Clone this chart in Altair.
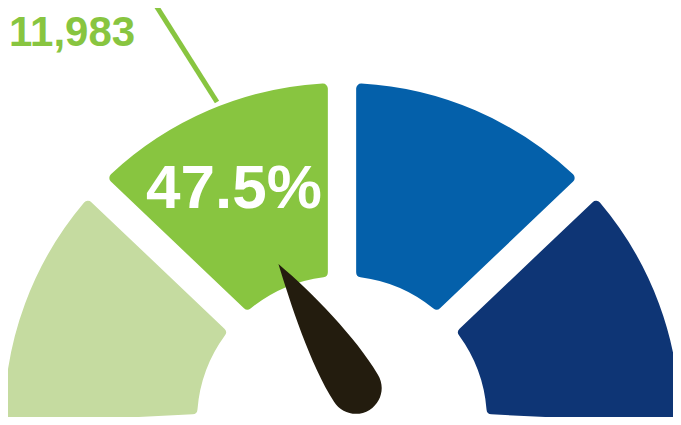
import math
import altair as alt
import pandas as pd

# ---- data ----
SEGMENTS = ["Q1", "Q2", "Q3", "Q4"]
SEG_START = [0, 25, 50, 75]
SEG_END = [25, 50, 75, 100]
SEG_COLORS = ["#C5DBA0", "#88C540", "#0460AA", "#0E3575"]
PCT_LABEL = ["47.5%"]
COUNT_LABEL = ["11,983"]

# ---- layout / style constants ----
W, H = 665, 409
CX, CY = 334, 413
R_OUT, R_IN = 338, 145
DELTA = 0.05
NEEDLE_PATH = ("M0,-1 C0.16,-0.5 0.31,0.2 0.3,0.7 "
               "A0.3,0.3 0 0 1 -0.3,0.7 C-0.31,0.2 -0.12,-0.55 0,-1 Z")

seg_df = pd.DataFrame({"seg": SEGMENTS, "start": SEG_START, "end": SEG_END})

arcs = alt.Chart(seg_df).mark_arc(
    innerRadius=R_IN, outerRadius=R_OUT, padAngle=0.077, cornerRadius=5
).encode(
    theta=alt.Theta("start:Q", scale=alt.Scale(domain=[0, 100],
                    range=[-math.pi / 2 - DELTA, math.pi / 2 + DELTA])),
    theta2="end:Q",
    color=alt.Color("seg:N", scale=alt.Scale(domain=SEGMENTS, range=SEG_COLORS), legend=None),
    x=alt.value(CX),
    y=alt.value(CY),
)

needle = alt.Chart(pd.DataFrame({"v": PCT_LABEL})).mark_point(
    shape=NEEDLE_PATH, filled=True, size=172 * 172, color="#231C0E",
    opacity=1, angle=328, strokeWidth=0
).encode(x=alt.value(316), y=alt.value(329))

pct = alt.Chart(pd.DataFrame({"t": PCT_LABEL})).mark_text(
    font="Liberation Sans", fontWeight="bold", fontSize=62, color="white",
    align="center", baseline="alphabetic"
).encode(text="t:N", x=alt.value(226), y=alt.value(200))

count = alt.Chart(pd.DataFrame({"t": COUNT_LABEL})).mark_text(
    font="Liberation Sans", fontWeight="bold", fontSize=42, color="#88C540",
    align="left", baseline="alphabetic"
).encode(text="t:N", x=alt.value(1), y=alt.value(38))

leader = alt.Chart(pd.DataFrame({"t": COUNT_LABEL})).mark_rule(
    strokeWidth=5, color="#88C540"
).encode(x=alt.value(147), y=alt.value(-4), x2=alt.value(209), y2=alt.value(94))

chart = alt.layer(arcs, needle, pct, leader, count).properties(
    width=W, height=H, padding=0, background="white",
    autosize=alt.AutoSizeParams(type="none"),
).configure_view(stroke=None)

chart.save("out.html", embed_options={"renderer": "svg", "actions": False})
